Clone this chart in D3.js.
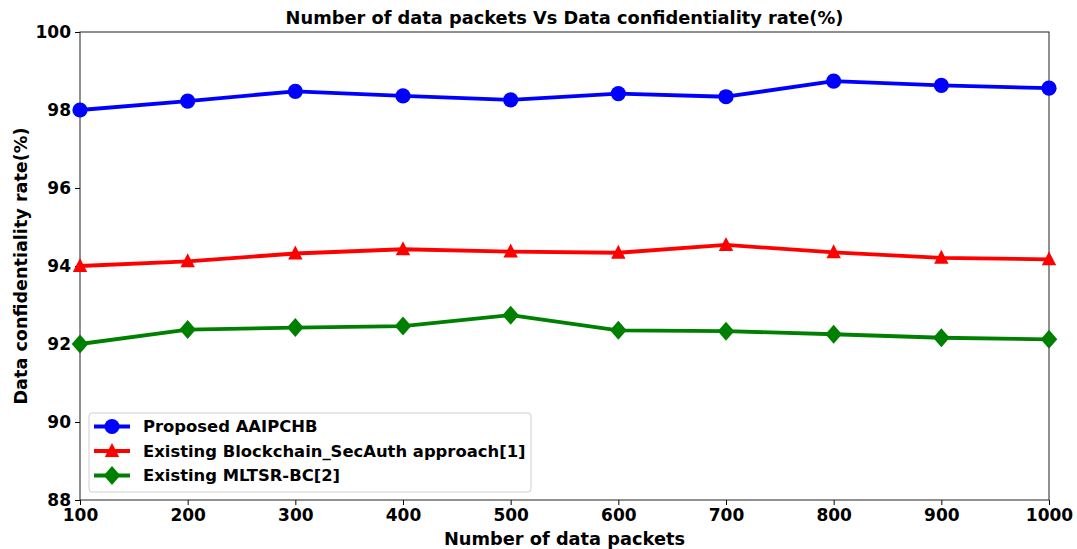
<!DOCTYPE html>
<html>
<head>
<meta charset="utf-8">
<style>
  body { margin: 0; background: #fff; }
  text { font-family: "DejaVu Sans", sans-serif; font-weight: bold; }
</style>
</head>
<body>
<svg width="1077" height="549"></svg>
<script src="https://d3js.org/d3.v7.min.js"></script>
<script>

var packets = [100, 200, 300, 400, 500, 600, 700, 800, 900, 1000];
var proposed = [98.0, 98.23, 98.48, 98.36, 98.26, 98.42, 98.34, 98.74, 98.63, 98.56];
var secAuth = [94.0, 94.12, 94.32, 94.43, 94.37, 94.34, 94.54, 94.35, 94.21, 94.17];
var mltsr = [92.0, 92.37, 92.42, 92.46, 92.74, 92.35, 92.33, 92.25, 92.16, 92.12];
var xTicks = [100, 200, 300, 400, 500, 600, 700, 800, 900, 1000];
var yTicks = [88, 90, 92, 94, 96, 98, 100];

var series = [
  {name: "Proposed AAIPCHB", values: proposed, color: "blue", marker: "circle"},
  {name: "Existing Blockchain_SecAuth approach[1]", values: secAuth, color: "red", marker: "triangle"},
  {name: "Existing MLTSR-BC[2]", values: mltsr, color: "green", marker: "diamond"}
];

var svg = d3.select("svg"),
    margin = {top: 32, right: 28, bottom: 49, left: 80},
    width = +svg.attr("width") - margin.left - margin.right,
    height = +svg.attr("height") - margin.top - margin.bottom,
    g = svg.append("g").attr("transform", "translate(" + margin.left + "," + margin.top + ")");

var x = d3.scaleLinear().domain([100, 1000]).range([0, width]);
var y = d3.scaleLinear().domain([88, 100]).range([height, 0]);

// matplotlib-like markers
var diamondType = {
  draw: function(ctx) {
    ctx.moveTo(0, -9.5); ctx.lineTo(8.3, 0); ctx.lineTo(0, 9.5); ctx.lineTo(-8.3, 0); ctx.closePath();
  }
};
var triangleType = {
  draw: function(ctx) {
    ctx.moveTo(0, -8); ctx.lineTo(7.2, 6); ctx.lineTo(-7.2, 6); ctx.closePath();
  }
};
var symbols = {
  circle: d3.symbol().type(d3.symbolCircle).size(Math.PI * 7.6 * 7.6),
  triangle: d3.symbol().type(triangleType),
  diamond: d3.symbol().type(diamondType)
};

// axes
var xAxis = g.append("g")
    .attr("transform", "translate(0," + height + ")")
    .call(d3.axisBottom(x).tickValues(xTicks).tickSize(5).tickPadding(4).tickFormat(d3.format("d")));
var yAxis = g.append("g")
    .call(d3.axisLeft(y).tickValues(yTicks).tickSize(5).tickPadding(4).tickFormat(d3.format("d")));

[xAxis, yAxis].forEach(function(a) {
  a.selectAll("text").attr("font-size", "17px").attr("fill", "#000");
  a.selectAll("line").attr("stroke", "#000").attr("stroke-width", 1);
  a.select(".domain").remove();
});

// frame
g.append("rect")
    .attr("width", width)
    .attr("height", height)
    .attr("fill", "none")
    .attr("stroke", "#222")
    .attr("stroke-width", 1);

var line = d3.line()
    .x(function(d, i) { return x(packets[i]); })
    .y(function(d) { return y(d); });

series.forEach(function(s) {
  g.append("path")
      .datum(s.values)
      .attr("fill", "none")
      .attr("stroke", s.color)
      .attr("stroke-width", 3.8)
      .attr("stroke-linejoin", "round")
      .attr("d", line);

  g.selectAll(null)
      .data(s.values)
    .enter().append("path")
      .attr("transform", function(d, i) {
        return "translate(" + x(packets[i]) + "," + y(d) + ")";
      })
      .attr("d", symbols[s.marker])
      .attr("fill", s.color);
});

// title and labels
svg.append("text")
    .attr("x", margin.left + width / 2)
    .attr("y", 24)
    .attr("text-anchor", "middle")
    .attr("font-size", "17.8px")
    .text("Number of data packets Vs Data confidentiality rate(%)");

svg.append("text")
    .attr("x", margin.left + width / 2)
    .attr("y", 545)
    .attr("text-anchor", "middle")
    .attr("font-size", "17.8px")
    .text("Number of data packets");

svg.append("text")
    .attr("transform", "translate(27," + (margin.top + height / 2) + ") rotate(-90)")
    .attr("text-anchor", "middle")
    .attr("font-size", "17.6px")
    .text("Data confidentiality rate(%)");

// legend
var legend = g.append("g").attr("transform", "translate(9,381)");
legend.append("rect")
    .attr("width", 442)
    .attr("height", 79)
    .attr("rx", 3)
    .attr("fill", "#fff")
    .attr("fill-opacity", 0.8)
    .attr("stroke", "#d0d0d0");

series.forEach(function(s, i) {
  var row = legend.append("g").attr("transform", "translate(0," + (13.5 + i * 24.5) + ")");
  row.append("line")
      .attr("x1", 5).attr("x2", 41)
      .attr("stroke", s.color)
      .attr("stroke-width", 3.8);
  row.append("path")
      .attr("transform", "translate(23,0)")
      .attr("d", symbols[s.marker])
      .attr("fill", s.color);
  row.append("text")
      .attr("x", 54)
      .attr("dy", "0.35em")
      .attr("font-size", "16.4px")
      .text(s.name);
});

</script>
</body>
</html>
